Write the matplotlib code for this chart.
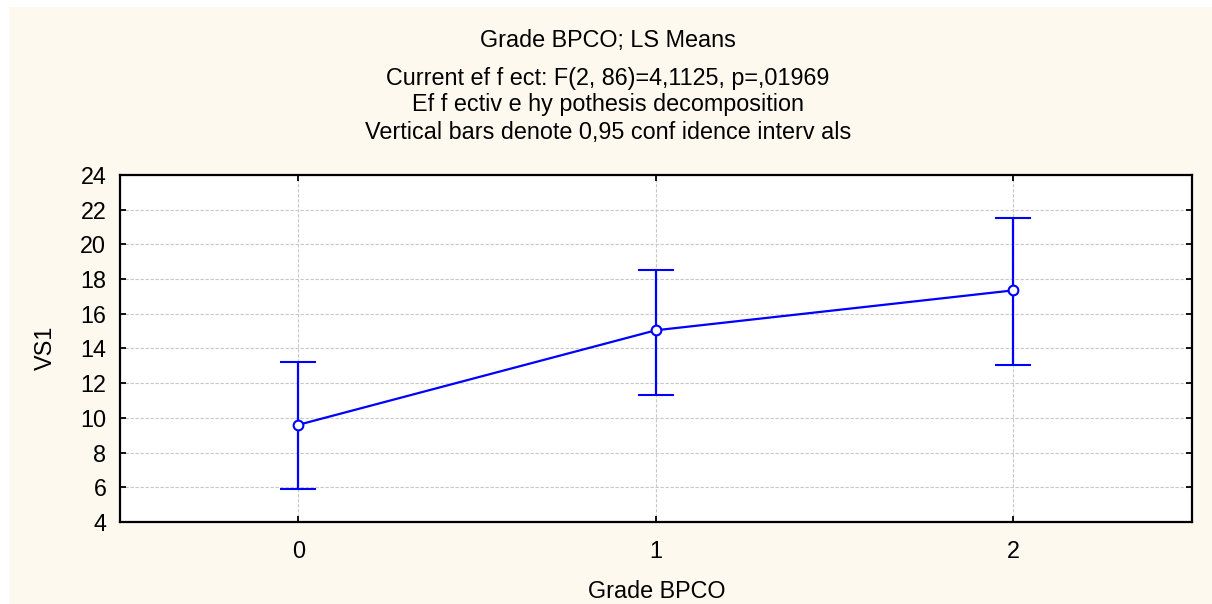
import matplotlib
matplotlib.use("Agg")
import matplotlib.pyplot as plt
import numpy as np

# LS means of VS1 by BPCO grade, with 0.95 confidence limits
grades = [0, 1, 2]
grade_labels = ["0", "1", "2"]
ls_means = [9.6, 15.05, 17.35]
ci_lower = [5.9, 11.3, 13.05]
ci_upper = [13.25, 18.55, 21.5]
y_ticks = [4, 6, 8, 10, 12, 14, 16, 18, 20, 22, 24]

title_lines = [
    "Grade BPCO; LS Means",
    "Current ef f ect: F(2, 86)=4,1125, p=,01969",
    "Ef f ectiv e hy pothesis decomposition",
    "Vertical bars denote 0,95 conf idence interv als",
]

plt.rcParams["font.family"] = ["Liberation Sans", "DejaVu Sans"]
FS = 16.8

W, H = 1212, 604
fig = plt.figure(figsize=(W / 100, H / 100), dpi=100, facecolor="white")

# cream panel behind the chart
bg = fig.add_axes([9 / W, 0, 1 - 9 / W, 1 - 7 / H])
bg.set_facecolor("#FEF9EF")
bg.set_xticks([])
bg.set_yticks([])
for s in bg.spines.values():
    s.set_visible(False)
bg.set_zorder(-10)

ax = fig.add_axes([119.5 / W, 1 - 522 / H, (1192 - 119.5) / W, (522 - 175) / H])
ax.set_facecolor("white")

means = np.array(ls_means)
yerr = np.vstack([means - np.array(ci_lower), np.array(ci_upper) - means])

ax.errorbar(grades, means, yerr=yerr, color="#0000FF", lw=1.6,
            elinewidth=1.6, capsize=13, capthick=1.6,
            marker="o", ms=7, mfc="white", mec="#0000FF", mew=1.5, zorder=3)

ax.set_xlim(-0.5, 2.5)
ax.set_ylim(4, 24)
ax.set_xticks(grades)
ax.set_xticklabels(grade_labels)
ax.set_yticks(y_ticks)

ax.grid(True, color="#C8C8C8", lw=0.8, linestyle=(0, (3, 1.5)), zorder=0)
ax.set_axisbelow(True)

for s in ax.spines.values():
    s.set_linewidth(1.6)
    s.set_color("black")

ax.tick_params(direction="in", length=4, width=1.3, top=True, right=True,
               labelsize=FS)
ax.tick_params(axis="y", pad=9.5)
ax.tick_params(axis="x", pad=13)

ax.set_xlabel("Grade BPCO", fontsize=FS, va="baseline")
ax.xaxis.set_label_coords(657 / W, 1 - 598 / H, transform=fig.transFigure)
ax.set_ylabel("VS1", fontsize=FS, va="center")
ax.yaxis.set_label_coords(45 / W, 1 - 348 / H, transform=fig.transFigure)

title_y = [41, 78, 105, 132]
for txt, yp in zip(title_lines, title_y):
    fig.text(608 / W, 1 - yp / H, txt, ha="center", va="center", fontsize=FS)

fig.savefig("out.png", dpi=100, facecolor=fig.get_facecolor())
